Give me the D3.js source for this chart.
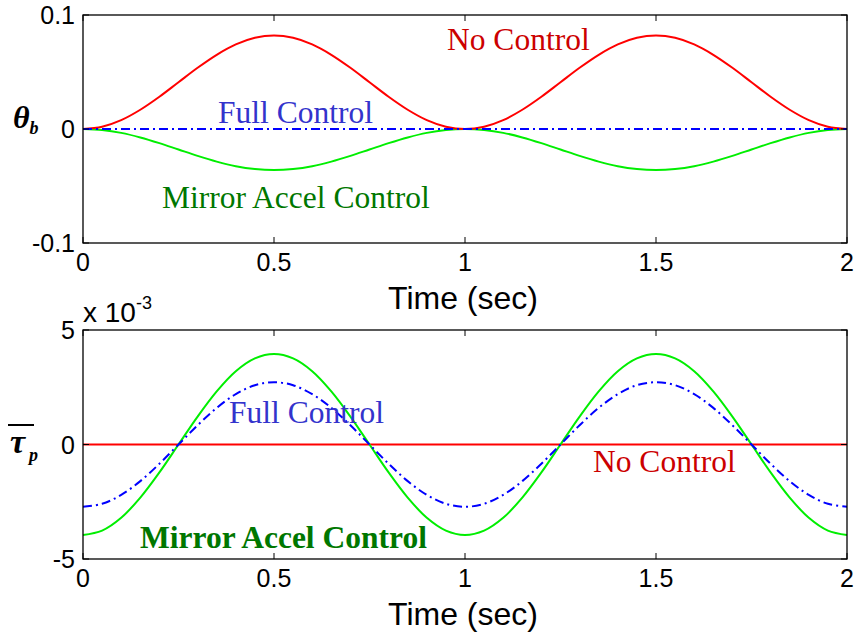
<!DOCTYPE html>
<html><head><meta charset="utf-8">
<script src="https://cdn.jsdelivr.net/npm/d3@7/dist/d3.min.js"></script>
<style>body{margin:0;background:#fff}svg{display:block}</style>
</head><body>
<svg id="c" width="858" height="634"></svg>
<script>
// time samples (sec)
const timeSec = [0,0.05,0.1,0.15,0.2,0.25,0.3,0.35,0.4,0.45,0.5,0.55,0.6,0.65,0.7,0.75,0.8,0.85,0.9,0.95,1,
  1.05,1.1,1.15,1.2,1.25,1.3,1.35,1.4,1.45,1.5,1.55,1.6,1.65,1.7,1.75,1.8,1.85,1.9,1.95,2];
// top panel: theta_b
const thetaNoControl = [0,0.0020,0.0078,0.0169,0.0283,0.0410,0.0537,0.0651,0.0742,0.0800,0.0820,0.0800,0.0742,0.0651,0.0537,0.0410,0.0283,0.0169,0.0078,0.0020,0,
  0.0020,0.0078,0.0169,0.0283,0.0410,0.0537,0.0651,0.0742,0.0800,0.0820,0.0800,0.0742,0.0651,0.0537,0.0410,0.0283,0.0169,0.0078,0.0020,0];
const thetaFullControl = [0,0,0,0,0,0,0,0,0,0,0,0,0,0,0,0,0,0,0,0,0,0,0,0,0,0,0,0,0,0,0,0,0,0,0,0,0,0,0,0,0];
const thetaMirror = [0,-0.0009,-0.0034,-0.0074,-0.0124,-0.0180,-0.0236,-0.0286,-0.0326,-0.0351,-0.0360,-0.0351,-0.0326,-0.0286,-0.0236,-0.0180,-0.0124,-0.0074,-0.0034,-0.0009,0,
  -0.0009,-0.0034,-0.0074,-0.0124,-0.0180,-0.0236,-0.0286,-0.0326,-0.0351,-0.0360,-0.0351,-0.0326,-0.0286,-0.0236,-0.0180,-0.0124,-0.0074,-0.0034,-0.0009,0];
// bottom panel: tau_p (x 10^-3)
const tauNoControl = [0,0,0,0,0,0,0,0,0,0,0,0,0,0,0,0,0,0,0,0,0,0,0,0,0,0,0,0,0,0,0,0,0,0,0,0,0,0,0,0,0];
const tauFullControl = [-2.72,-2.59,-2.20,-1.60,-0.84,0,0.84,1.60,2.20,2.59,2.72,2.59,2.20,1.60,0.84,0,-0.84,-1.60,-2.20,-2.59,-2.72,
  -2.59,-2.20,-1.60,-0.84,0,0.84,1.60,2.20,2.59,2.72,2.59,2.20,1.60,0.84,0,-0.84,-1.60,-2.20,-2.59,-2.72];
const tauMirror = [-3.95,-3.76,-3.20,-2.32,-1.22,0,1.22,2.32,3.20,3.76,3.95,3.76,3.20,2.32,1.22,0,-1.22,-2.32,-3.20,-3.76,-3.95,
  -3.76,-3.20,-2.32,-1.22,0,1.22,2.32,3.20,3.76,3.95,3.76,3.20,2.32,1.22,0,-1.22,-2.32,-3.20,-3.76,-3.95];
const xTicks = [0,0.5,1,1.5,2];
const xTickLabels = ["0","0.5","1","1.5","2"];
const thetaTicks = [-0.1,0,0.1];
const thetaTickLabels = ["-0.1","0","0.1"];
const tauTicks = [-5,0,5];
const tauTickLabels = ["-5","0","5"];

const svg = d3.select("#c");
const L = 83, R = 847;
const x = d3.scaleLinear().domain([0,2]).range([L,R]);

function panel(top, bottom, yDomain, yTicks, yLabels, series){
  const y = d3.scaleLinear().domain(yDomain).range([bottom, top]);
  const g = svg.append("g");
  const line = d3.line().x((d,i)=>x(timeSec[i])).y(d=>y(d)).curve(d3.curveCatmullRom.alpha(0.5));
  series.forEach(s=>{
    g.append("path").datum(s.data).attr("d", line).attr("fill","none")
      .attr("stroke", s.color).attr("stroke-width", 2)
      .attr("stroke-dasharray", s.dash || null);
  });
  const tl = 6;
  const ax = g.append("g").attr("stroke","#000").attr("stroke-width",1.3);
  ax.append("rect").attr("x",L).attr("y",top).attr("width",R-L).attr("height",bottom-top).attr("fill","none");
  xTicks.forEach(t=>{
    ax.append("line").attr("x1",x(t)).attr("x2",x(t)).attr("y1",bottom).attr("y2",bottom-tl).attr("stroke-width",1);
    ax.append("line").attr("x1",x(t)).attr("x2",x(t)).attr("y1",top).attr("y2",top+tl).attr("stroke-width",1);
  });
  yTicks.forEach(t=>{
    ax.append("line").attr("x1",L).attr("x2",L+tl).attr("y1",y(t)).attr("y2",y(t)).attr("stroke-width",1);
    ax.append("line").attr("x1",R).attr("x2",R-tl).attr("y1",y(t)).attr("y2",y(t)).attr("stroke-width",1);
  });
  const f = "Liberation Sans, Arial, sans-serif";
  xTicks.forEach((t,i)=>{
    g.append("text").attr("x",x(t)).attr("y",bottom+28).attr("text-anchor","middle")
      .attr("font-family",f).attr("font-size",25).text(xTickLabels[i]);
  });
  yTicks.forEach((t,i)=>{
    g.append("text").attr("x",L-8).attr("y",y(t)+9).attr("text-anchor","end")
      .attr("font-family",f).attr("font-size",25).text(yLabels[i]);
  });
  g.append("text").attr("x",463).attr("y",bottom+66).attr("text-anchor","middle")
    .attr("font-family",f).attr("font-size",32).text("Time (sec)");
  return y;
}

const blueDash = "9,4,2,4";
panel(15, 243, [-0.1,0.1], thetaTicks, thetaTickLabels, [
  {data: thetaMirror, color:"#00ee00"},
  {data: thetaNoControl, color:"#ff0000"},
  {data: thetaFullControl, color:"#0000ff", dash: blueDash}
]);
panel(330, 559, [-5,5], tauTicks, tauTickLabels, [
  {data: tauNoControl, color:"#ff0000"},
  {data: tauMirror, color:"#00ee00"},
  {data: tauFullControl, color:"#0000ff", dash: blueDash}
]);

const serif = "Liberation Serif, Times New Roman, serif";
function lab(txt, xx, yy, col, bold){
  svg.append("text").attr("x",xx).attr("y",yy).attr("font-family",serif).attr("font-size",31.5)
    .attr("fill",col).attr("font-weight",bold?"bold":"normal").text(txt);
}
lab("No Control", 447, 50, "#cc0000");
lab("Full Control", 218, 123, "#3333cc");
lab("Mirror Accel Control", 162, 208, "#007700");
lab("Full Control", 229, 423, "#3333cc");
lab("No Control", 593, 472, "#cc0000");
lab("Mirror Accel Control", 140, 548, "#007700", true);

// y labels
const th = svg.append("text").attr("font-family",serif).attr("font-weight","bold").attr("font-style","italic");
th.append("tspan").attr("x",13).attr("y",128).attr("font-size",32).text("θ");
th.append("tspan").attr("dy",6).attr("font-size",18).text("b");
const tu = svg.append("text").attr("font-family",serif).attr("font-weight","bold").attr("font-style","italic");
tu.append("tspan").attr("x",10).attr("y",453).attr("font-size",34).text("τ");
tu.append("tspan").attr("dx",4).attr("dy",8).attr("font-size",18).text("p");
svg.append("line").attr("x1",8).attr("x2",34).attr("y1",425).attr("y2",425).attr("stroke","#000").attr("stroke-width",2);

// exponent label
const ex = svg.append("text").attr("font-family","Liberation Sans, Arial, sans-serif");
ex.append("tspan").attr("x",83).attr("y",322).attr("font-size",28).text("x 10");
ex.append("tspan").attr("dy",-13).attr("font-size",18).text("-3");
</script>
</body></html>
